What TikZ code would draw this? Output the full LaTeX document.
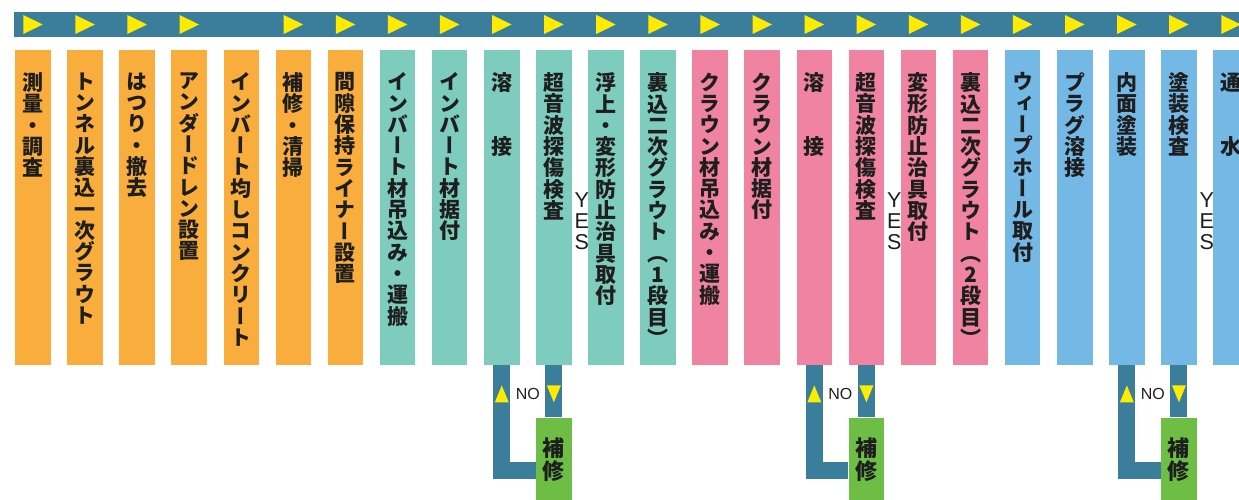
\documentclass[tikz,border=0pt]{standalone}
\usepackage{fontspec}
\usetikzlibrary{calc}
\newfontfamily\jpfont[RawFeature=+vert]{Noto Sans CJK JP}
\newfontfamily\lsans{Liberation Sans}
\definecolor{orng}{RGB}{248,173,60}
\definecolor{teal}{RGB}{125,204,190}
\definecolor{pink}{RGB}{240,130,162}
\definecolor{blue}{RGB}{116,185,230}
\definecolor{barc}{RGB}{58,126,155}
\definecolor{grn}{RGB}{110,190,70}
\definecolor{ylw}{RGB}{255,235,0}
\definecolor{ink}{RGB}{30,30,30}
\ExplSyntaxOn
\NewDocumentCommand\colstack{m}{
  \vbox{\dim_set:Nn \lineskiplimit {-100pt}
    \tl_map_inline:nn {#1} {\hbox_to_wd:nn {1em} {\hss ##1 \hss}}}
}
\ExplSyntaxOff
\tikzset{
  colbox/.style={rectangle, inner sep=0pt, minimum width=35.5pt, minimum height=315pt, anchor=north west},
  coltext/.style={inner sep=0pt, anchor=north, text=ink, font=\jpfont\bfseries\fontsize{21}{21.3}\selectfont},
  greenbox/.style={rectangle, fill=grn, inner sep=0pt, minimum width=35.5pt, minimum height=84pt, anchor=north west, text=ink, font=\jpfont\bfseries\fontsize{22}{23}\selectfont},
  loopline/.style={draw=barc, line width=17pt, line cap=butt, line join=miter},
  tri/.style={fill=ylw},
  nolabel/.style={inner sep=0pt, text=ink, font=\lsans\fontsize{16}{16}\selectfont},
  yeslabel/.style={inner sep=0pt, text=ink, font=\lsans\fontsize{21.5}{21}\selectfont},
}
\begin{document}
\begin{tikzpicture}[x=1pt,y=-1pt]
\useasboundingbox (0,0) rectangle (1239,500);
% top bar
\fill[barc] (14,12) rectangle (1239,37);
\foreach \i in {0,1,2,3,5,6,7,8,9,10,11,12,13,14,15,16,17,18,19,20,21,22,23}{
  \pgfmathsetmacro\cx{15+52.09*\i+17.75}
  \fill[tri] (\cx-9.5,15) -- (\cx+10,24.5) -- (\cx-9.5,34) -- cycle;
}
% columns
\foreach \t/\c [count=\i from 0] in {
  測量・調査/orng, トンネル裏込一次グラウト/orng, はつり・撤去/orng, アンダードレン設置/orng,
  インバート均しコンクリート/orng, 補修・清掃/orng, 間隙保持ライナー設置/orng,
  インバート材吊込み・運搬/teal, インバート材据付/teal, 溶　　接/teal, 超音波探傷検査/teal,
  浮上・変形防止治具取付/teal, 裏込二次グラウト（1段目）/teal,
  クラウン材吊込み・運搬/pink, クラウン材据付/pink, 溶　　接/pink, 超音波探傷検査/pink,
  変形防止治具取付/pink, 裏込二次グラウト（2段目）/pink,
  ウィープホール取付/blue, プラグ溶接/blue, 内面塗装/blue, 塗装検査/blue, 通　　水/blue}{
  \pgfmathsetmacro\xx{15+52.09*\i}
  \node[colbox, fill=\c] (c\i) at (\xx,50) {};
  \node[coltext] (t\i) at ([yshift=-22.5pt]c\i.north) {\expandafter\colstack\expandafter{\t}};
}
% repair loops
\foreach \a/\b in {9/10, 15/16, 21/22}{
  \node[greenbox] (g\b) at ([yshift=-52pt]c\b.south west) {\colstack{補修}};
  \draw[loopline] (c\a.south) |- ([yshift=-10.5pt]g\b.west);
  \draw[loopline] (c\b.south) -- (g\b.north);
  \fill[tri] ([shift={(-7,37)}]c\a.south) -- ([shift={(7,37)}]c\a.south) -- ([shift={(0,20)}]c\a.south) -- cycle;
  \fill[tri] ([shift={(-7,20)}]c\b.south) -- ([shift={(7,20)}]c\b.south) -- ([shift={(0,37)}]c\b.south) -- cycle;
  \node[nolabel] (n\b) at ($($(c\a.south)!0.5!(c\b.south)$)+(0,29)$) {NO};
  \node[yeslabel] (y\b) at ([shift={(10,13.5)}]c\b.east) {\colstack{YES}};
}
\end{tikzpicture}
\end{document}
